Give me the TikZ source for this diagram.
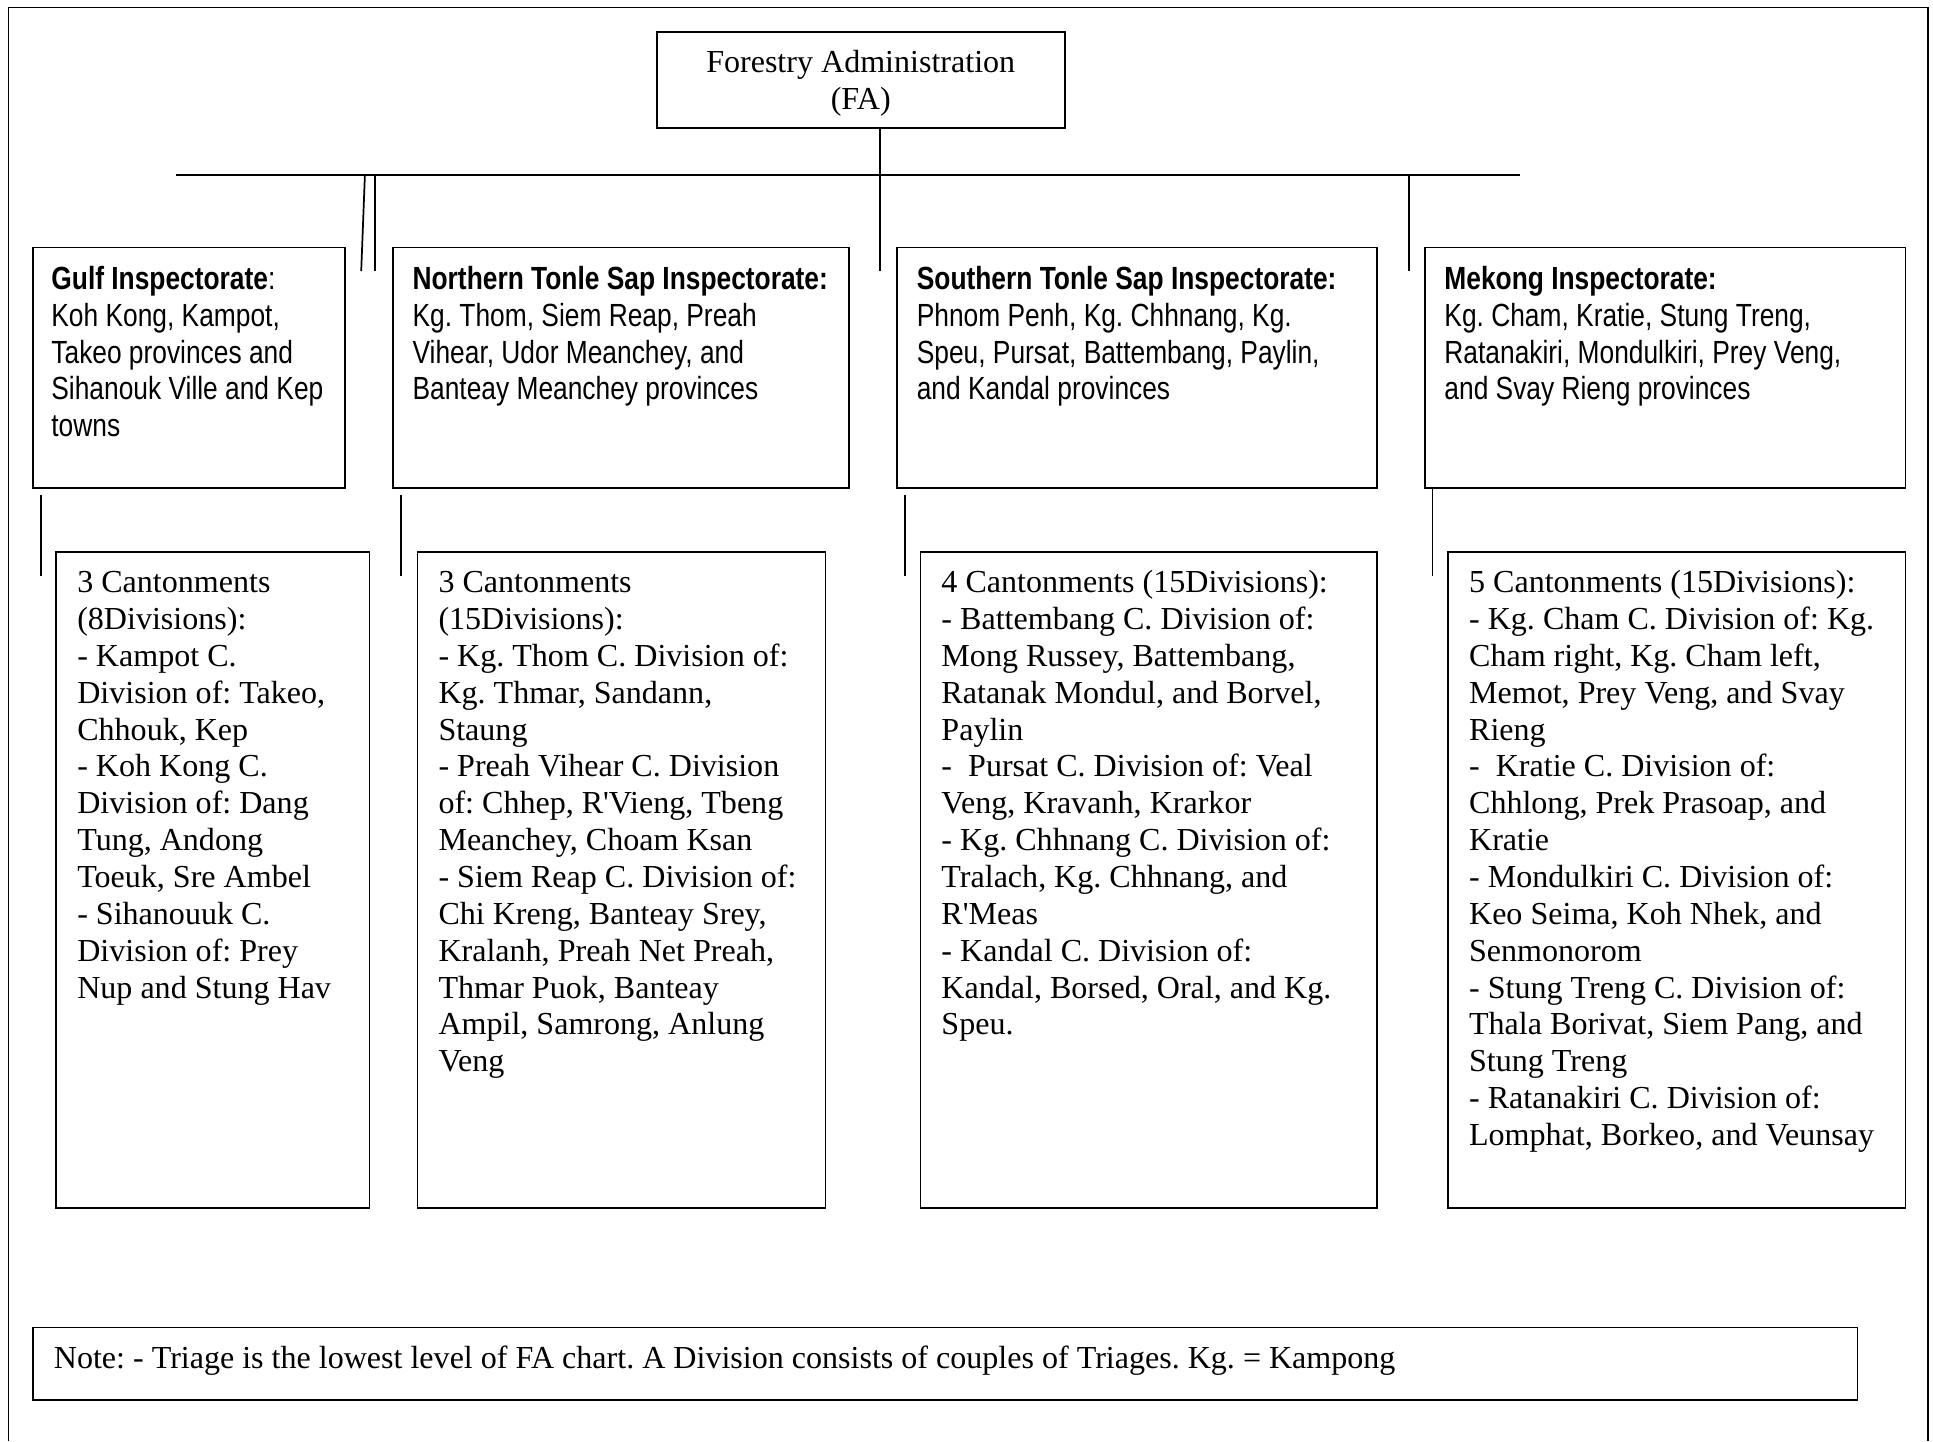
\documentclass[tikz,border=0pt]{standalone}
\usepackage{fontspec}
\setmainfont{Liberation Serif}
\newfontfamily\plainserif{Liberation Serif}
\newfontfamily\narrowsans[FakeStretch=0.822]{Liberation Sans}
\newcommand{\chartsize}{\fontsize{13pt}{14.95pt}\selectfont\frenchspacing}

\begin{document}
\begin{tikzpicture}[
    x=0.5pt, y=-0.5pt,
    box/.style={draw, line width=0.7pt, anchor=north west, inner xsep=8.5pt,
      inner ysep=0pt, font=\chartsize\plainserif},
    head/.style={box, align=flush center, text height=16.5pt, text depth=22.5pt},
    insp/.style={box, align=flush left, inner xsep=8pt, font=\chartsize\narrowsans,
      text height=17pt, text depth=80.5pt},
    cant/.style={box, align=flush left, text height=16.5pt, text depth=249.5pt},
    note/.style={box, align=flush left, text height=16.5pt, text depth=13pt},
    link/.style={line width=0.7pt}]
  \useasboundingbox (0,0) rectangle (1568,1169);
  % frame
  \draw[link] (7,1169) -- (7,6) -- (1564,6) -- (1564,1169);
  % head
  \node[head, text width=148.5pt] (fa) at (532,25) {Forestry Administration\\(FA)};
  % inspectorates
  \node[insp, inner xsep=7.5pt, text width=111.5pt] (gulf) at (26,200)
    {\textbf{Gulf Inspectorate}:\\Koh Kong, Kampot,\\Takeo provinces and\\Sihanouk Ville and Kep\\towns};
  \node[insp, text width=169pt] (north) at (318,200)
    {\textbf{Northern Tonle Sap Inspectorate:}\\Kg. Thom, Siem Reap, Preah\\Vihear, Udor Meanchey, and\\Banteay Meanchey provinces};
  \node[insp, text width=178.5pt] (south) at (727,200)
    {\textbf{Southern Tonle Sap Inspectorate:}\\Phnom Penh, Kg. Chhnang, Kg.\\Speu, Pursat, Battembang, Paylin,\\and Kandal provinces};
  \node[insp, text width=179pt] (mekong) at (1155,200)
    {\textbf{Mekong Inspectorate:}\\Kg. Cham, Kratie, Stung Treng,\\Ratanakiri, Mondulkiri, Prey Veng,\\and Svay Rieng provinces};
  % cantonments
  \node[cant, text width=110pt] (gulfc) at (45,447)
    {3 Cantonments\\(8Divisions):\\- Kampot C.\\Division of: Takeo,\\Chhouk, Kep\\- Koh Kong C.\\Division of: Dang\\Tung, Andong\\Toeuk, Sre Ambel\\- Sihanouuk C.\\Division of: Prey\\Nup and Stung Hav};
  \node[cant, text width=148.5pt] (northc) at (338,447)
    {3 Cantonments\\(15Divisions):\\- Kg. Thom C. Division of:\\Kg. Thmar, Sandann,\\Staung\\- Preah Vihear C. Division\\of: Chhep, R'Vieng, Tbeng\\Meanchey, Choam Ksan\\- Siem Reap C. Division of:\\Chi Kreng, Banteay Srey,\\Kralanh, Preah Net Preah,\\Thmar Puok, Banteay\\Ampil, Samrong, Anlung\\Veng};
  \node[cant, text width=168pt] (southc) at (746,447)
    {4 Cantonments (15Divisions):\\- Battembang C. Division of:\\Mong Russey, Battembang,\\Ratanak Mondul, and Borvel,\\Paylin\\-\ \ Pursat C. Division of: Veal\\Veng, Kravanh, Krarkor\\- Kg. Chhnang C. Division of:\\Tralach, Kg. Chhnang, and\\R'Meas\\- Kandal C. Division of:\\Kandal, Borsed, Oral, and Kg.\\Speu.};
  \node[cant, text width=168.5pt] (mekongc) at (1174,447)
    {5 Cantonments (15Divisions):\\- Kg. Cham C. Division of: Kg.\\Cham right, Kg. Cham left,\\Memot, Prey Veng, and Svay\\Rieng\\-\ \ Kratie C. Division of:\\Chhlong, Prek Prasoap, and\\Kratie\\- Mondulkiri C. Division of:\\Keo Seima, Koh Nhek, and\\Senmonorom\\- Stung Treng C. Division of:\\Thala Borivat, Siem Pang, and\\Stung Treng\\- Ratanakiri C. Division of:\\Lomphat, Borkeo, and Veunsay};
  % note
  \node[note, text width=723pt] (note) at (26,1076)
    {Note: - Triage is the lowest level of FA chart. A Division consists of couples of Triages. Kg. = Kampong};
  % bus and drops
  \coordinate (busL) at (143,142);
  \coordinate (busR) at (1233,142);
  \coordinate (dropA) at (293,220);
  \coordinate (dropB) at (304,220);
  \coordinate (dropC) at (714,220);
  \coordinate (dropD) at (1143,220);
  \draw[link] (busL) -- (busR);
  \draw[link] (fa.south -| dropC) -- (dropC);
  \draw[link] ([xshift=1.5pt]busL -| dropA) -- (dropA);
  \draw[link] (busL -| dropB) -- (dropB);
  \draw[link] (busL -| dropD) -- (dropD);
  % lines under the inspectorates
  \draw[link] ([shift={(7,5)}]gulf.south west) -- ++(0,66);
  \draw[link] ([shift={(7,5)}]north.south west) -- ++(0,66);
  \draw[link] ([shift={(7,5)}]south.south west) -- ++(0,66);
  \draw[link] ([shift={(7,0)}]mekong.south west) -- ++(0,71);
\end{tikzpicture}
\end{document}
